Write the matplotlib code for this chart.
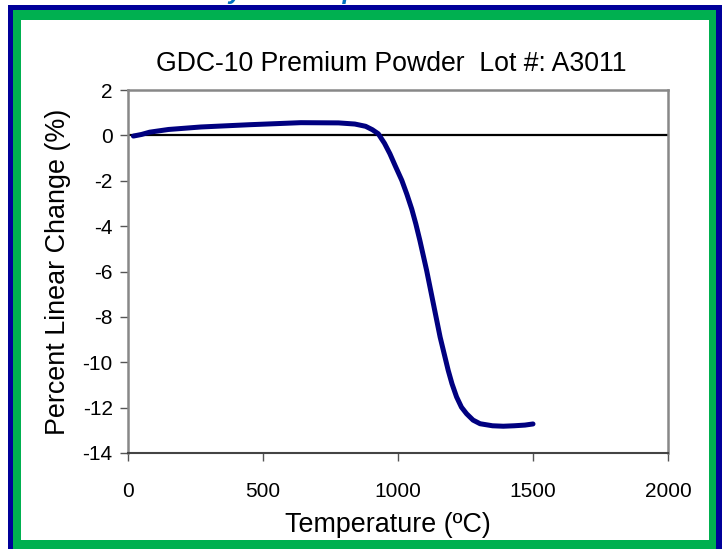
import numpy as np
import matplotlib.pyplot as plt
from matplotlib.patches import Rectangle

plt.rcParams['font.family'] = ['Liberation Sans', 'DejaVu Sans']
plt.rcParams['axes.unicode_minus'] = False

# temperature (C) and linear change (%)
temp = [20, 50, 80, 150, 270, 450, 640, 780, 840, 880, 905, 927, 950, 970, 990, 1014,
        1033, 1051, 1066, 1081, 1106, 1131, 1156, 1186, 1200, 1217, 1235, 1254, 1278,
        1304, 1350, 1390, 1430, 1470, 1500]
change = [-0.03, 0.04, 0.14, 0.26, 0.37, 0.47, 0.56, 0.55, 0.5, 0.4, 0.25, 0.07, -0.35,
          -0.81, -1.35, -1.98, -2.6, -3.25, -3.9, -4.63, -5.95, -7.42, -8.89, -10.36,
          -10.95, -11.53, -11.98, -12.27, -12.55, -12.71, -12.8, -12.82, -12.8, -12.77,
          -12.72]

xticks = [0, 500, 1000, 1500, 2000]
yticks = [2, 0, -2, -4, -6, -8, -10, -12, -14]

fig = plt.figure(figsize=(7.25, 5.49), dpi=100)

# frame: blue outside, green inside
fig.patches.append(Rectangle((8/725, 0), 714/725, 544/549, transform=fig.transFigure,
                             facecolor='#000099', edgecolor='none', zorder=-10))
fig.patches.append(Rectangle((13/725, 0), 703/725, 539/549, transform=fig.transFigure,
                             facecolor='#00B050', edgecolor='none', zorder=-9))
fig.patches.append(Rectangle((21/725, 9/549), 688/725, 520/549, transform=fig.transFigure,
                             facecolor='white', edgecolor='none', zorder=-8))

# heading of the page, cut off above
fig.text(0.145, 1.002, "Dilatometry Data Report", color='#0070C0', fontsize=18,
         style='italic', fontweight='bold', va='baseline', ha='left')

ax = fig.add_axes([128/725, 1 - 453/549, 540/725, 363/549])
ax.set_facecolor('none')
ax.plot(temp, change, color='#000080', lw=3.6, solid_capstyle='round',
        solid_joinstyle='round', zorder=3)
ax.axhline(0, color='black', lw=1.6, zorder=2)

ax.set_xlim(0, 2000)
ax.set_ylim(-14, 2)
ax.set_xticks(xticks)
ax.set_yticks(yticks)
ax.tick_params(labelsize=15, length=6, width=1, color='#555555')
ax.tick_params(axis='x', pad=15)
ax.tick_params(axis='y', pad=5)
for s in ['top', 'right', 'left']:
    ax.spines[s].set_color('#888888')
    ax.spines[s].set_linewidth(1.8)
ax.spines['bottom'].set_color('#444444')
ax.spines['bottom'].set_linewidth(1.5)

ax.set_title("GDC-10 Premium Powder  Lot #: A3011", fontsize=19.2, pad=14, x=0.487)
ax.set_xlabel("Temperature (ºC)", fontsize=19.4, labelpad=8)
ax.xaxis.set_label_coords(0.481, -0.162)
ax.set_ylabel("Percent Linear Change (%)", fontsize=19.4, labelpad=8)

plt.savefig("out.png", dpi=100)
